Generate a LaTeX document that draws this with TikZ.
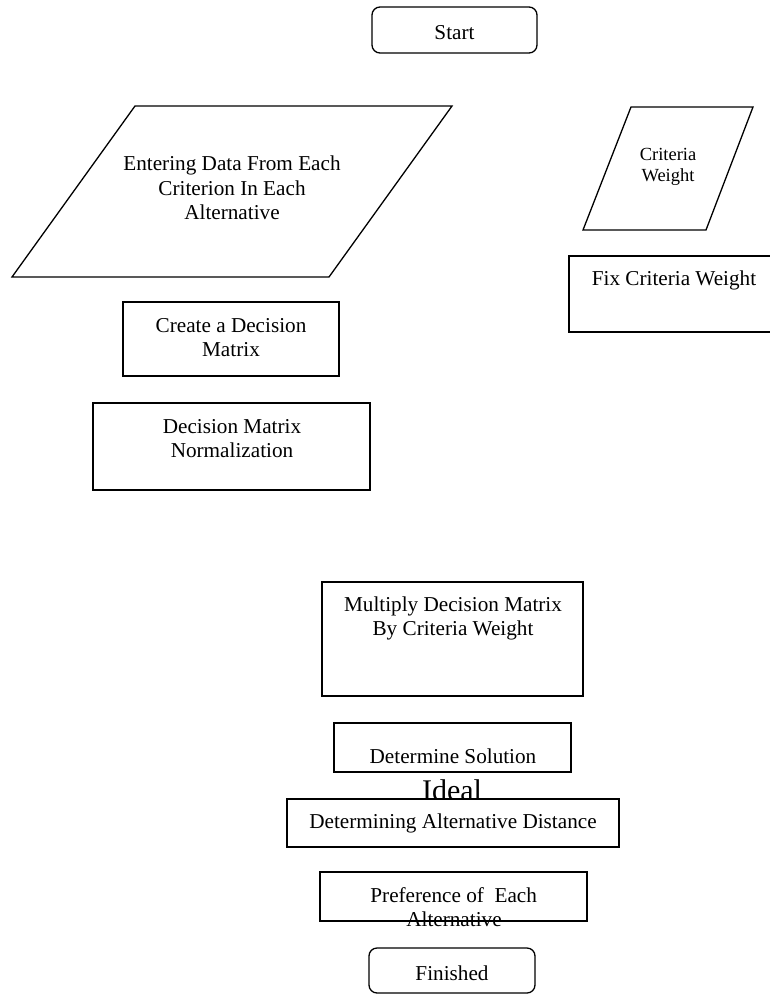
\documentclass[tikz,border=0pt]{standalone}
\usepackage{fontspec}
\setmainfont{Liberation Serif}
\begin{document}
\begin{tikzpicture}[x=1pt,y=-1pt,
  shp/.style={draw, line width=1.3pt, line join=miter},
  rbox/.style={shp, rounded corners=8pt},
  txt/.style={anchor=base, inner sep=0pt, font=\fontsize{21.2}{24.5}\selectfont},
  smalltxt/.style={anchor=base, inner sep=0pt, font=\fontsize{18.5}{21}\selectfont},
  bigtxt/.style={anchor=base, inner sep=0pt, font=\fontsize{30}{34}\selectfont}]
\useasboundingbox (0,0) rectangle (770,994);
\clip (0,0) rectangle (770,994);

% Start
\draw[rbox] (372,7) rectangle (537,53);
\node[txt] (start) at (454.5,39) {Start};

% Entering data parallelogram
\draw[shp] (135,106) -- (452,106) -- (329,277) -- (12,277) -- cycle;
\node[txt] (enter1) at (232,170) {Entering Data From Each};
\node[txt] (enter2) at (232,195) {Criterion In Each};
\node[txt] (enter3) at (232,219) {Alternative};

% Criteria weight parallelogram
\draw[shp] (631,107) -- (753,107) -- (706,230) -- (583,230) -- cycle;
\node[smalltxt] (cw1) at (668,160) {Criteria};
\node[smalltxt] (cw2) at (668,181) {Weight};

% Fix criteria weight
\draw[shp] (569,256) -- (780,256) -- (780,332) -- (569,332) -- cycle;
\node[txt] (fix) at (674,285) {Fix Criteria Weight};

% Create a decision matrix
\draw[shp] (123,302) rectangle (339,376);
\node[txt] (create1) at (231,332) {Create a Decision};
\node[txt] (create2) at (231,356) {Matrix};

% Normalization
\draw[shp] (93,403) rectangle (370,490);
\node[txt] (norm1) at (232,433) {Decision Matrix};
\node[txt] (norm2) at (232,457) {Normalization};

% Multiply
\draw[shp] (322,582) rectangle (583,696);
\node[txt] (mult1) at (453,611) {Multiply Decision Matrix};
\node[txt] (mult2) at (453,635) {By Criteria Weight};

% Determine solution ideal
\draw[shp] (334,723) rectangle (571,772);
\node[txt] (ideal1) at (453,763) {Determine Solution};
\node[bigtxt] (ideal2) at (452,800) {Ideal};

% Determining alternative distance
\draw[shp, fill=white] (287,799) rectangle (619,847);
\node[txt] (dist) at (453,828) {Determining Alternative Distance};

% Preference
\draw[shp] (320,872) rectangle (587,921);
\node[txt] (pref1) at (453.7,902) {Preference of\ \ Each};
\node[txt] (pref2) at (454,926) {Alternative};

% Finished
\draw[rbox] (369,948) rectangle (535,993);
\node[txt] (fin) at (452,980) {Finished};
\end{tikzpicture}
\end{document}
